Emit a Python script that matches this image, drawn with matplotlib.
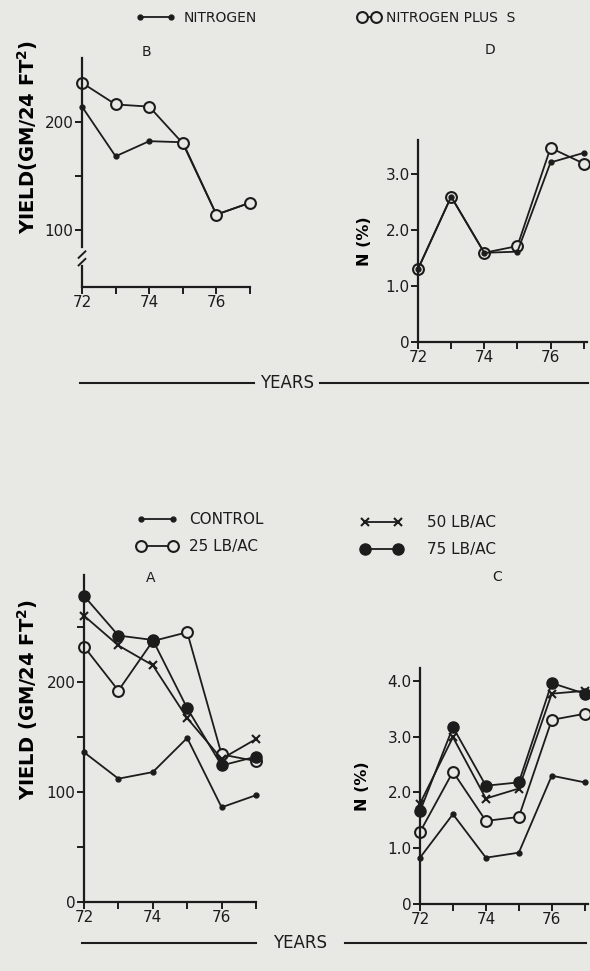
import matplotlib
matplotlib.use('Agg')
import matplotlib.pyplot as plt
from matplotlib.lines import Line2D

# Years on the x axis (19xx)
years = [72, 73, 74, 75, 76, 77]
year_ticks = [72, 73, 74, 75, 76, 77]
year_labels = ['72', '', '74', '', '76', '']

# Panel B: yield, nitrogen vs nitrogen plus S
b_nitrogen = [214, 168, 182, 181, 114, 125]
b_nitrogen_s = [236, 216, 214, 180, 114, 125]

# Panel D: N (%), nitrogen vs nitrogen plus S
d_nitrogen = [1.30, 2.59, 1.59, 1.61, 3.20, 3.37]
d_nitrogen_s = [1.30, 2.59, 1.59, 1.71, 3.46, 3.18]

# Panel A: yield by rate
a_control = [136, 112, 118, 149, 86, 97]
a_25 = [232, 192, 237, 245, 134, 128]
a_50 = [260, 233, 215, 167, 130, 148]
a_75 = [278, 242, 238, 176, 124, 132]

# Panel C: N (%) by rate
c_control = [0.83, 1.61, 0.83, 0.92, 2.30, 2.18]
c_25 = [1.29, 2.37, 1.49, 1.56, 3.30, 3.41]
c_50 = [1.80, 2.99, 1.89, 2.07, 3.77, 3.82]
c_75 = [1.66, 3.17, 2.12, 2.18, 3.96, 3.77]

W, H = 590, 971
bg = '#e8e8e5'
ink = '#1c1c1c'

plt.rcParams['font.family'] = ['DejaVu Sans']
plt.rcParams['text.color'] = ink

fig = plt.figure(figsize=(W / 100, H / 100), dpi=100, facecolor=bg)


def fx(px):
    return px / W


def fy(py):
    return 1 - py / H


def make_axes(left, right, top, bottom):
    ax = fig.add_axes([fx(left), fy(bottom), fx(right) - fx(left), (bottom - top) / H])
    ax.set_facecolor('none')
    for s in ['top', 'right']:
        ax.spines[s].set_visible(False)
    for s in ['left', 'bottom']:
        ax.spines[s].set_color(ink)
        ax.spines[s].set_linewidth(1.6)
    ax.tick_params(colors=ink, width=1.4, length=5, labelsize=11, pad=1)
    ax.set_xticks(year_ticks)
    ax.set_xticklabels(year_labels)
    return ax


dot = dict(color=ink, marker='o', markersize=3.5, lw=1.3, clip_on=False)
ring = dict(color=ink, marker='o', markersize=7.8, mfc=bg, mec=ink, mew=1.5, lw=1.3, clip_on=False)
cross = dict(color=ink, marker='x', markersize=6, mew=1.5, lw=1.3, clip_on=False)
big = dict(color=ink, marker='o', markersize=8, lw=1.3, clip_on=False)

# ---- Panel B ----
axB = make_axes(82, 250, 58, 287)
axB.set_xlim(72, 77)
axB.set_ylim(47, 259)
axB.set_yticks([100, 150, 200])
axB.set_yticklabels(['100', '', '200'])
lnB1, = axB.plot(years, b_nitrogen, **dot)
lnB2, = axB.plot(years, b_nitrogen_s, **ring)
# axis break on the y axis
axB.spines['left'].set_bounds(84, 259)
axB.plot([72, 72], [47, 66], color=ink, lw=1.6, clip_on=False)
for yb in [70, 77]:
    axB.plot([71.9, 72.1], [yb - 3, yb + 3], color=ink, lw=1.4, clip_on=False)
axB.set_ylabel('YIELD(GM/24 FT$^\\mathbf{2}$)', fontsize=14, fontweight='bold')
axB.yaxis.set_label_coords(-0.25, 0.655)

# ---- Panel D ----
axD = make_axes(418, 587, 140, 342)
axD.set_xlim(72, 77.1)
axD.set_ylim(0, 3.6)
axD.set_yticks([0, 1, 2, 3])
axD.set_yticklabels(['0', '1.0', '2.0', '3.0'])
axD.plot(years, d_nitrogen_s, **ring)
axD.plot(years, d_nitrogen, **dot)
axD.set_ylabel('N (%)', fontsize=11.5, fontweight='bold')
axD.yaxis.set_label_coords(-0.27, 0.5)

# ---- Panel A ----
axA = make_axes(84, 256, 575, 902)
axA.set_xlim(72, 77)
axA.set_ylim(0, 297)
axA.set_yticks([0, 50, 100, 150, 200, 250])
axA.set_yticklabels(['0', '', '100', '', '200', ''])
lnA1, = axA.plot(years, a_control, **dot)
lnA2, = axA.plot(years, a_25, **ring)
lnA3, = axA.plot(years, a_50, **cross)
lnA4, = axA.plot(years, a_75, **big)
axA.set_ylabel('YIELD (GM/24 FT$^\\mathbf{2}$)', fontsize=14, fontweight='bold')
axA.yaxis.set_label_coords(-0.255, 0.62)

# ---- Panel C ----
axC = make_axes(420, 588, 668, 904)
axC.set_xlim(72, 77.1)
axC.set_ylim(0, 4.23)
axC.set_yticks([0, 1, 2, 3, 4])
axC.set_yticklabels(['0', '1.0', '2.0', '3.0', '4.0'])
axC.plot(years, c_control, **dot)
axC.plot(years, c_25, **ring)
axC.plot(years, c_50, **cross)
axC.plot(years, c_75, **big)
axC.set_ylabel('N (%)', fontsize=11.5, fontweight='bold')
axC.yaxis.set_label_coords(-0.30, 0.5)

# ---- legends ----
leg_kw = dict(frameon=False, numpoints=2, borderpad=0, borderaxespad=0, loc='center left')
fig.legend([lnB1], ['NITROGEN'], bbox_to_anchor=(fx(136), fy(18)),
           handlelength=2.8, handletextpad=0.6, fontsize=10, **leg_kw)
fig.legend([lnB2], ['NITROGEN PLUS  S'], bbox_to_anchor=(fx(358), fy(18)),
           handlelength=1.6, handletextpad=0.4, fontsize=10, **leg_kw)
fig.legend([lnA1, lnA2], ['CONTROL', '25 LB/AC'], bbox_to_anchor=(fx(136), fy(533)),
           handlelength=2.7, handletextpad=0.8, fontsize=11, labelspacing=0.8, **leg_kw)
fig.legend([lnA3, lnA4], ['50 LB/AC', '75 LB/AC'], bbox_to_anchor=(fx(360), fy(536)),
           handlelength=2.8, handletextpad=1.6, fontsize=11, labelspacing=0.8, **leg_kw)

# panel letters
for letter, px, py in [('B', 146, 52), ('D', 490, 50), ('A', 151, 578), ('C', 497, 577)]:
    fig.text(fx(px), fy(py), letter, fontsize=10, ha='center', va='center')

# YEARS captions with rules
for cx, cy, l0, l1, r0, r1 in [(287, 383, 80, 254, 320, 588), (300, 943, 82, 256, 345, 586)]:
    fig.text(fx(cx), fy(cy), 'YEARS', fontsize=12, ha='center', va='center')
    fig.add_artist(Line2D([fx(l0), fx(l1)], [fy(cy), fy(cy)], color=ink, lw=1.5))
    fig.add_artist(Line2D([fx(r0), fx(r1)], [fy(cy), fy(cy)], color=ink, lw=1.5))

fig.savefig('out.png', dpi=100, facecolor=bg)
